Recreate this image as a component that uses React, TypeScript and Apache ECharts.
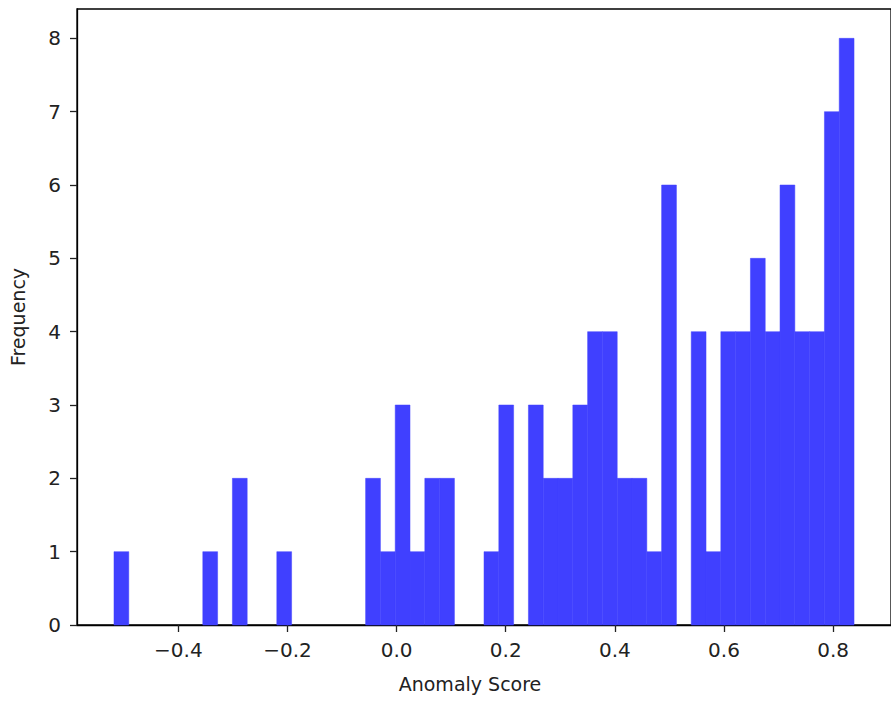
import React, { useEffect, useRef } from "react";
import * as echarts from "echarts";

// Histogram of anomaly scores (50 bins)
const binStart = -0.5179;
const binWidth = 0.027125;
const counts = [
  1, 0, 0, 0, 0, 0, 1, 0, 2, 0,
  0, 1, 0, 0, 0, 0, 0, 2, 1, 3,
  1, 2, 2, 0, 0, 1, 3, 0, 3, 2,
  2, 3, 4, 4, 2, 2, 1, 6, 0, 4,
  1, 4, 4, 5, 4, 6, 4, 4, 7, 8,
];
const xTicks = [-0.4, -0.2, 0.0, 0.2, 0.4, 0.6, 0.8];
const yTicks = [0, 1, 2, 3, 4, 5, 6, 7, 8];
const xMin = -0.5857;
const xMax = 0.9061;
const yMax = 8.4;

const FONT = "DejaVu Sans";

export default function App() {
  const ref = useRef<HTMLDivElement>(null);
  useEffect(() => {
    if (!ref.current) return;
    const chart = echarts.init(ref.current, undefined, { renderer: "svg" });
    const data = counts.map((c, i) => [
      binStart + i * binWidth,
      binStart + (i + 1) * binWidth,
      c,
    ]);
    chart.setOption({
      animation: false,
      backgroundColor: "#ffffff",
      grid: {
        left: 74,
        right: -8,
        top: 9,
        bottom: 78,
        show: true,
        borderColor: "#000",
        borderWidth: 1.3,
        backgroundColor: "transparent",
      },
      xAxis: {
        type: "value",
        min: xMin,
        max: xMax,
        name: "Anomaly Score",
        nameLocation: "middle",
        nameGap: 49,
        nameTextStyle: {
          fontFamily: FONT,
          fontSize: 19,
          color: "#222",
          padding: [0, 28, 0, 0],
        },
        splitLine: { show: false },
        axisLine: { show: true, onZero: false, lineStyle: { color: "#000", width: 1.3 } },
        axisTick: {
          show: true,
          length: 7,
          customValues: xTicks,
          lineStyle: { color: "#222", width: 1.3 },
        },
        axisLabel: {
          customValues: xTicks,
          margin: 15,
          fontFamily: FONT,
          fontSize: 20,
          color: "#222",
          formatter: (v: number) => v.toFixed(1).replace("-", "\u2212"),
        },
      },
      yAxis: {
        type: "value",
        min: 0,
        max: yMax,
        name: "Frequency",
        nameLocation: "middle",
        nameGap: 50,
        nameTextStyle: { fontFamily: FONT, fontSize: 19, color: "#222" },
        splitLine: { show: false },
        axisLine: { show: true, onZero: false, lineStyle: { color: "#000", width: 1.3 } },
        axisTick: {
          show: true,
          length: 7,
          customValues: yTicks,
          lineStyle: { color: "#222", width: 1.3 },
        },
        axisLabel: {
          customValues: yTicks,
          margin: 16,
          fontFamily: FONT,
          fontSize: 20,
          color: "#222",
        },
      },
      series: [
        {
          type: "custom",
          data,
          encode: { x: [0, 1], y: 2 },
          renderItem: (params: any, api: any) => {
            const x0 = api.value(0);
            const x1 = api.value(1);
            const c = api.value(2);
            if (!c) return null;
            const p0 = api.coord([x0, c]);
            const p1 = api.coord([x1, 0]);
            return {
              type: "rect",
              shape: { x: p0[0], y: p0[1], width: p1[0] - p0[0], height: p1[1] - p0[1] },
              style: { fill: "#4040ff", stroke: "#4040ff", lineWidth: 0.5 },
            };
          },
        },
      ],
    });
    return () => chart.dispose();
  }, []);
  return (
    <div
      ref={ref}
      style={{ position: "fixed", left: 0, top: 0, width: 891, height: 703 }}
    />
  );
}
